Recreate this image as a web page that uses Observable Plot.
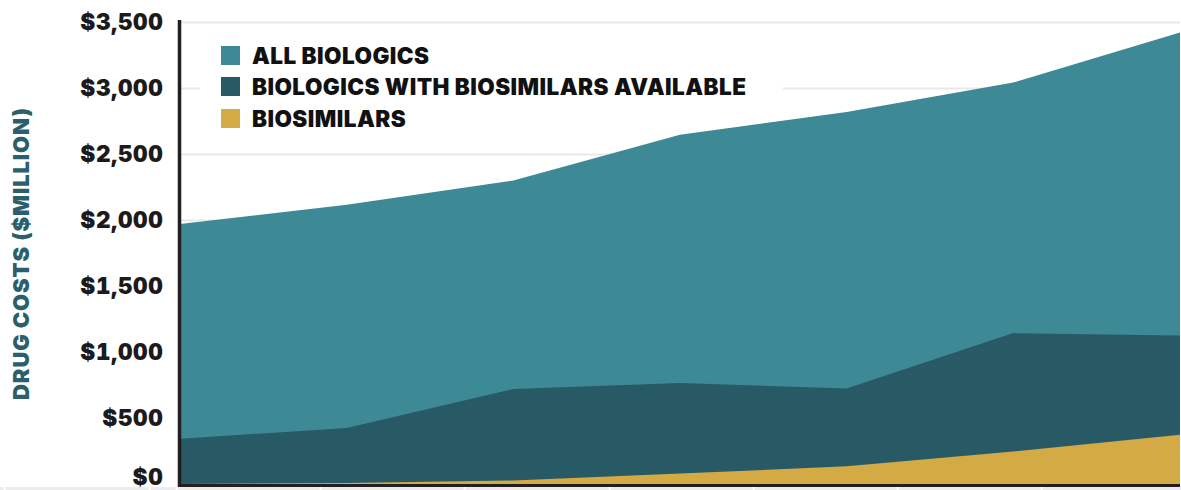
<!DOCTYPE html>
<html>
<head>
<meta charset="utf-8">
<script src="https://cdn.jsdelivr.net/npm/d3@7"></script>
<script src="https://cdn.jsdelivr.net/npm/@observablehq/plot@0.6"></script>
<style>
  html, body { margin: 0; padding: 0; background: #fff; }
  #wrap { position: relative; width: 1181px; height: 490px; overflow: hidden; font-family: Inter, "DejaVu Sans", sans-serif; }
  #wrap svg { position: absolute; left: 0; top: 0; }
  g[aria-label="y-axis label"] text { fill: #2b5f6b; font-size: 22px; font-weight: 900; letter-spacing: 0.85px; }
  g[aria-label="y-axis tick label"] text { letter-spacing: 0.7px; }
  #legend { position: absolute; left: 200px; top: 32px; width: 583px; height: 84px; background: #fff; }
  .item { position: absolute; left: 21px; display: flex; align-items: center; height: 20px; }
  .sw { width: 19px; height: 19px; margin-right: 12px; }
  .lab { font-weight: 900; font-size: 22.5px; color: #111; letter-spacing: 0.45px; white-space: nowrap; }
  #strip { position: absolute; left: 0; top: 487px; width: 1181px; height: 3px;
    background: repeating-linear-gradient(to right, #fff 0 2px, #ececec 2px 144.2px);
    background-position: 175.7px 0; }
</style>
</head>
<body>
<div id="wrap"></div>
<script>
// Drug spending over seven consecutive periods, $ million
const periods = [0, 1, 2, 3, 4, 5, 6];
const allBiologics = [1970, 2116, 2300, 2645, 2818, 3041, 3421];
const withBiosimilars = [343, 424, 719, 765, 724, 1143, 1125];
const biosimilars = [0, 7, 27, 79, 134, 247, 374];

const seriesNames = ["ALL BIOLOGICS", "BIOLOGICS WITH BIOSIMILARS AVAILABLE", "BIOSIMILARS"];
const seriesColors = ["#3d8a96", "#285a66", "#d4aa44"];
const seriesValues = [allBiologics, withBiosimilars, biosimilars];
const yTicks = [0, 500, 1000, 1500, 2000, 2500, 3000, 3500];

const rows = seriesValues.flatMap((vals, s) =>
  periods.map((p, i) => ({period: p, value: vals[i], series: seriesNames[s]}))
);

const fmt = d3.format("$,");

const chart = Plot.plot({
  width: 1181,
  height: 490,
  marginLeft: 180,
  marginRight: 1,
  marginTop: 22,
  marginBottom: 6,
  style: {fontFamily: "Inter, 'DejaVu Sans', sans-serif", fontSize: "22.5px", fontWeight: 900, color: "#1c1a1b", background: "transparent"},
  x: {domain: [periods[0], periods[periods.length - 1]], axis: null},
  y: {domain: [0, 3500]},
  color: {domain: seriesNames, range: seriesColors},
  marks: [
    Plot.gridY(yTicks, {stroke: "#e9e9e9", strokeOpacity: 1, strokeWidth: 2}),
    // each series is drawn from zero, overlapping (not stacked)
    Plot.area(rows, {x1: "period", y1: 0, y2: "value", z: "series", fill: "series", fillOpacity: 1}),
    Plot.axisY(yTicks.filter(t => t > 0), {tickSize: 0, tickPadding: 17, tickFormat: fmt,
      label: "DRUG COSTS ($MILLION)", labelAnchor: "center", labelArrow: "none", labelOffset: 167}),
    Plot.axisY([0], {tickSize: 0, tickPadding: 17, tickFormat: fmt, dy: -7, label: null}),
    Plot.ruleX([periods[0]], {stroke: "#231f20", strokeWidth: 3.5, dx: -1, insetTop: -2, insetBottom: -3}),
    Plot.ruleY([0], {stroke: "#231f20", strokeWidth: 3, dy: 1})
  ]
});

const wrap = document.getElementById("wrap");
wrap.appendChild(chart);

const legend = document.createElement("div");
legend.id = "legend";
seriesNames.forEach((name, i) => {
  const item = document.createElement("div");
  item.className = "item";
  item.style.top = (13 + i * 31.5) + "px";
  const sw = document.createElement("div");
  sw.className = "sw";
  sw.style.background = seriesColors[i];
  const lab = document.createElement("span");
  lab.className = "lab";
  lab.textContent = name;
  item.appendChild(sw);
  item.appendChild(lab);
  legend.appendChild(item);
});
wrap.appendChild(legend);

const strip = document.createElement("div");
strip.id = "strip";
wrap.appendChild(strip);
</script>
</body>
</html>
